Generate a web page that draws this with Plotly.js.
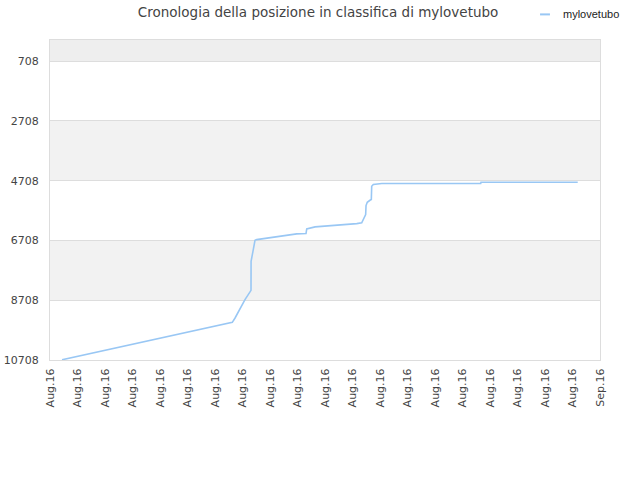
<!DOCTYPE html>
<html>
<head>
<meta charset="utf-8">
<script src="https://cdn.plot.ly/plotly-3.0.1.min.js"></script>
<style>
  html, body { margin: 0; padding: 0; background: #fff; }
  #chart { width: 640px; height: 480px; }
</style>
</head>
<body>
<div id="chart"></div>
<script>
// rank history (lower number = better rank)
var seriesName = "mylovetubo";
var times = [
  "2016-08-01 16:14", "2016-08-11 06:36", "2016-08-11 10:19", "2016-08-11 23:46",
  "2016-08-12 07:55", "2016-08-12 08:00", "2016-08-12 11:00", "2016-08-12 13:18",
  "2016-08-12 15:36", "2016-08-14 21:43", "2016-08-15 10:19", "2016-08-15 11:17",
  "2016-08-15 22:31", "2016-08-17 01:30", "2016-08-18 06:57", "2016-08-18 13:41",
  "2016-08-18 16:48", "2016-08-18 19:00", "2016-08-18 19:30", "2016-08-18 21:10",
  "2016-08-19 00:50", "2016-08-19 02:40", "2016-08-19 03:10", "2016-08-19 05:20",
  "2016-08-19 16:48", "2016-08-25 06:36", "2016-08-25 07:00", "2016-08-30 17:50"
];
var ranks = [
  10700, 9449, 9302, 8689,
  8377, 7406, 7014, 6703,
  6679, 6488, 6478, 6321,
  6254, 6210, 6143, 6120,
  5986, 5842, 5541, 5430,
  5363, 5340, 4894, 4837,
  4804, 4804, 4760, 4760
];

// axes
var yTicks = [708, 2708, 4708, 6708, 8708, 10708];
var xStart = "2016-08-01";
var xEnd = "2016-09-01";
var xTickLabels = [
  "Aug.16", "Aug.16", "Aug.16", "Aug.16", "Aug.16", "Aug.16", "Aug.16",
  "Aug.16", "Aug.16", "Aug.16", "Aug.16", "Aug.16", "Aug.16", "Aug.16",
  "Aug.16", "Aug.16", "Aug.16", "Aug.16", "Aug.16", "Aug.16", "Sep.16"
];

var lineColor = "#99c7f4";

// evenly spaced tick positions between start and end of the month
var t0 = new Date(xStart + "T00:00:00Z").getTime();
var t1 = new Date(xEnd + "T00:00:00Z").getTime();
var xTickVals = xTickLabels.map(function (lbl, i) {
  var t = new Date(t0 + (t1 - t0) * i / (xTickLabels.length - 1));
  return t.toISOString().slice(0, 19).replace("T", " ");
});

// grey bands: above the first tick, then every other interval
var bands = [{ y0: 0, y1: yTicks[0], color: "#eeeeee" }];
for (var i = 1; i + 1 < yTicks.length; i += 2) {
  bands.push({ y0: yTicks[i], y1: yTicks[i + 1], color: "#f2f2f2" });
}
var shapes = bands.map(function (b) {
  return {
    type: "rect", xref: "paper", yref: "y",
    x0: 0, x1: 1, y0: b.y0, y1: b.y1,
    fillcolor: b.color, line: { width: 0 }, layer: "below"
  };
});

// small legend swatch, drawn by hand so it stays short like the original
shapes.push({
  type: "line", xref: "paper", yref: "paper",
  x0: 0.891, x1: 0.909, y0: 1.08, y1: 1.08,
  line: { color: lineColor, width: 2 }
});

var trace = {
  type: "scatter",
  mode: "lines",
  name: seriesName,
  x: times,
  y: ranks,
  line: { color: lineColor, width: 1.6 },
  hoverinfo: "x+y",
  showlegend: false
};

var layout = {
  width: 640,
  height: 480,
  margin: { l: 50, r: 40, t: 40, b: 120, pad: 0, autoexpand: false },
  paper_bgcolor: "#ffffff",
  plot_bgcolor: "#ffffff",
  font: { family: "DejaVu Sans, sans-serif", size: 11, color: "#444" },
  title: {
    text: "Cronologia della posizione in classifica di mylovetubo",
    font: { family: "DejaVu Sans, sans-serif", size: 13.5, color: "#444" },
    x: 0.497, xanchor: "center",
    y: 0.975, yanchor: "middle"
  },
  showlegend: false,
  annotations: [{
    text: seriesName,
    xref: "paper", yref: "paper",
    x: 0.929, xanchor: "left",
    y: 1.08, yanchor: "middle",
    showarrow: false,
    font: { family: "Liberation Sans, Arial, sans-serif", size: 11, color: "#222" }
  }],
  shapes: shapes,
  xaxis: {
    type: "date",
    range: [xStart, xEnd],
    tickmode: "array",
    tickvals: xTickVals,
    ticktext: xTickLabels,
    tickangle: -90,
    ticks: "",
    ticklabelstandoff: 3,
    showgrid: false,
    zeroline: false,
    showline: true,
    mirror: true,
    linecolor: "#dddddd",
    linewidth: 1,
    tickfont: { size: 11, color: "#444" }
  },
  yaxis: {
    range: [yTicks[yTicks.length - 1], 0],
    tickmode: "array",
    tickvals: yTicks,
    ticktext: yTicks.map(String),
    ticks: "",
    ticklabelstandoff: 8,
    showgrid: true,
    gridcolor: "#dddddd",
    gridwidth: 1,
    zeroline: false,
    showline: true,
    mirror: true,
    linecolor: "#dddddd",
    linewidth: 1,
    tickfont: { size: 11, color: "#444" }
  }
};

Plotly.newPlot("chart", [trace], layout, { displayModeBar: false, staticPlot: true });
</script>
</body>
</html>
